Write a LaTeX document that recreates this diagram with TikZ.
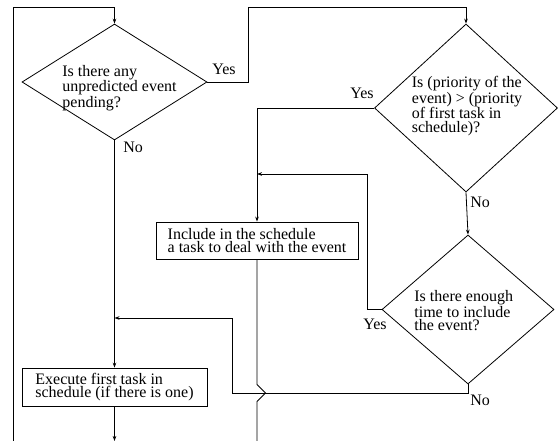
\documentclass[tikz,border=0pt]{standalone}
\usepackage{fontspec}
\setmainfont{Liberation Serif}
\usetikzlibrary{shapes.geometric,arrows.meta}
\begin{document}
\begin{tikzpicture}[x=1pt,y=-1pt,line width=0.8pt,
  every node/.style={font=\fontsize{16}{13.6}\selectfont},
  dec/.style={draw,shape=diamond,inner sep=0pt},
  txt/.style={align=left,anchor=north west,inner sep=0pt},
  lbl/.style={anchor=base west,inner sep=0pt},
  box/.style={draw,rectangle,align=left,inner ysep=0pt},
  arr/.style={-{Stealth[length=5pt,width=3.6pt,inset=1.6pt]}}]
\useasboundingbox (0,0) rectangle (558,441);
% decisions
\node[dec,minimum width=185pt,minimum height=116pt] (d1) at (114.5,82) {};
\node[txt] (t1) at (62,64.5) {Is there any\\unpredicted event\\pending?};
\node[dec,minimum width=183pt,minimum height=168pt] (d2) at (466,108) {};
\node[txt] (t2) at (411.5,76) {Is (priority of the\\event) > (priority\\of first task in\\schedule)?};
\node[dec,minimum width=172pt,minimum height=149pt] (d3) at (468,309.5) {};
\node[txt] (t3) at (414,290) {Is there enough\\time to include\\the event?};
% boxes
\node[box,minimum width=202pt,minimum height=37pt,inner xsep=6pt] (inc) at (257,240.5) {Include in the schedule\\a task to deal with the event};
\node[box,minimum width=185pt,minimum height=38pt,inner xsep=9pt] (exe) at (114.5,387) {Execute first task in\\schedule (if there is one)};
% labels
\node[lbl] (y1) at (212,75) {Yes};
\node[lbl] (n1) at (123,153) {No};
\node[lbl] (y2) at (350,99) {Yes};
\node[lbl] (n2) at (470,208) {No};
\node[lbl] (y3) at (363,330) {Yes};
\node[lbl] (n3) at (470,405.5) {No};
% coordinates
\coordinate (loopb) at (13,441);
\coordinate (loopt) at (13,7);
\coordinate (j1) at (257,174);
\coordinate (j2) at (114.5,318);
\coordinate (incb) at (257,441);
\coordinate (exeb) at (114.5,441);
% connectors
\draw[arr] (loopb) -- (loopt) -| (d1.north);
\draw[arr] (d1.east) -| (248,7) -| (d2.north);
\draw[arr] (d1.south) -- (exe.north);
\draw[arr] (d2.west) -| (inc.north);
\draw[arr] (d2.south) -- (d3.north);
\draw[arr] (d3.west) -| (367,174) -- (j1);
\draw[arr] (d3.south) |- (232,393) |- (j2);
\draw (inc.south) -- (257,384.5) -- (265.5,393) -- (257,401.5) -- (incb);
\draw[arr] (exe.south) -- (exeb);
\end{tikzpicture}
\end{document}
